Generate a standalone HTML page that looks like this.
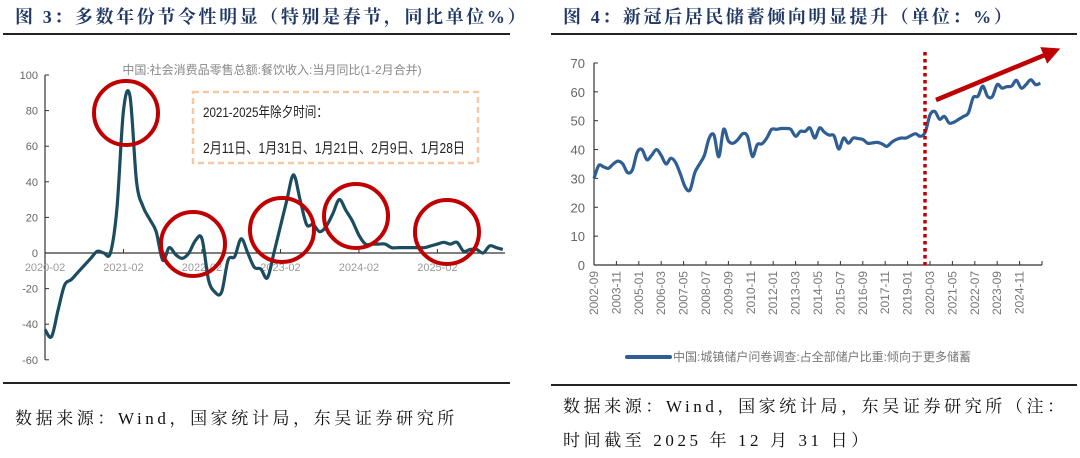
<!DOCTYPE html>
<html><head><meta charset="utf-8"><style>
body{margin:0;width:1080px;height:449px;background:#fff;overflow:hidden;position:relative;font-family:"Liberation Serif","Noto Serif CJK SC",serif}
.t{position:absolute;font-weight:bold;color:#1f3864;font-size:18px;white-space:nowrap;letter-spacing:2.6px}
.s{position:absolute;font-size:17px;color:#111;white-space:nowrap;letter-spacing:3.6px}
.rule{position:absolute;height:2px;background:#222}
</style></head><body>
<div class="t" style="left:15px;top:3px">图 3：多数年份节令性明显（特别是春节，同比单位%）</div>
<div class="t" style="left:563px;top:3px">图 4：新冠后居民储蓄倾向明显提升（单位：%）</div>
<div class="rule" style="left:3px;top:33px;width:507px"></div>
<div class="rule" style="left:551px;top:33px;width:526px"></div>
<div class="rule" style="left:3px;top:382px;width:507px"></div>
<div class="rule" style="left:551px;top:384px;width:526px"></div>
<div class="s" style="left:15px;top:404px">数据来源：Wind，国家统计局，东吴证券研究所</div>
<div class="s" style="left:563px;top:390px;line-height:34px">数据来源：Wind，国家统计局，东吴证券研究所（注：<br>时间截至 2025 年 12 月 31 日）</div>
<svg id="svg" width="1080" height="449" style="position:absolute;left:0;top:0" font-family="Liberation Sans, Noto Sans CJK SC, sans-serif">
<defs><marker id="ah" markerWidth="4" markerHeight="4" refX="2" refY="2" orient="auto"><path d="M0,0 L4,2 L0,4 z" fill="#c00000"/></marker></defs>
<g id="L"></g><g id="R"></g>
</svg>
<script>
const leftValues=[-43,-47,-32,-18,-15,-11,-7,-3,1,0,0,25,80,88,40,26,19,12,-4,3,-1,-3,0,7,8,-15,-22,-22,-4,-2,8,0,-8,-9,-14,0,15,30,44,30,16,16,12,15,22,30,24,18,10,5,5,5,5,3,3,3,3,3,3,4,5,6,5,6,1,2,2,0,4,3,2];
const leftTicksY=[100,80,60,40,20,0,-20,-40,-60];
const leftTicksX=["2020-02","2021-02","2022-02","2023-02","2024-02","2025-02"];
const rightValues=[30,34.5,34,33.5,35,36,35,32,33,39,40,36.5,38,40,38,35,37,35.5,31.5,27,26,32,35,38,44,45,37.5,47,43,42.2,43.5,45.5,44.5,37.6,41.7,42,44,47,47,47.3,47.3,47,44.6,46.3,46.3,47.5,44,47.5,46,45,44.8,40.2,44,42.2,44,43.8,43.5,42.2,42.3,42.5,42,41.1,42.5,43.5,44,44,44.8,45.5,44.6,46,52,53.2,50.5,51.5,49.2,49.5,50.5,51.5,52.7,58,58.5,62,58.4,58.4,62.5,61.3,61.8,62,64,61.3,62.5,64.2,62.5,63];
const rightTicksY=[0,10,20,30,40,50,60,70];
const rightTicksX=["2002-09","2003-11","2005-01","2006-03","2007-05","2008-07","2009-09","2010-11","2012-01","2013-03","2014-05","2015-07","2016-09","2017-11","2019-01","2020-03","2021-05","2022-07","2023-09","2024-11"];
const NS="http://www.w3.org/2000/svg";
function mk(p,tag,a){const e=document.createElementNS(NS,tag);for(const k in a)e.setAttribute(k,a[k]);p.appendChild(e);return e;}
function smooth(pts){let d="M"+pts[0][0]+","+pts[0][1];for(let i=0;i<pts.length-1;i++){const p0=pts[i-1]||pts[i],p1=pts[i],p2=pts[i+1],p3=pts[i+2]||p2;d+=" C"+(p1[0]+(p2[0]-p0[0])/6)+","+(p1[1]+(p2[1]-p0[1])/6)+" "+(p2[0]-(p3[0]-p1[0])/6)+","+(p2[1]-(p3[1]-p1[1])/6)+" "+p2[0]+","+p2[1];}return d;}
// Left chart
const L=document.getElementById('L');
const lx=i=>45+i*6.54, ly=v=>253-v*1.78;
let e=mk(L,'line',{x1:45,y1:ly(100),x2:45,y2:ly(-60),stroke:'#333','stroke-width':1.2});

e=mk(L,'line',{x1:45,y1:ly(0),x2:505,y2:ly(0),stroke:'#333','stroke-width':1.2});

leftTicksY.forEach(v=>{mk(L,'line',{x1:45,y1:ly(v),x2:49,y2:ly(v),stroke:'#333'});
 const t=mk(L,'text',{x:38,y:ly(v)+4,'text-anchor':'end','font-size':11,fill:'#666'});t.textContent=v;
 });
leftTicksX.forEach((s,i)=>{const x=lx(i*12);mk(L,'line',{x1:x,y1:ly(0),x2:x,y2:ly(0)-4,stroke:'#333'});
 const t=mk(L,'text',{x:x,y:271,'text-anchor':'middle','font-size':11,fill:'#999'});t.textContent=s;
 });
e=mk(L,'text',{x:272,y:74,'text-anchor':'middle','font-size':12,fill:'#888'});e.textContent='中国:社会消费品零售总额:餐饮收入:当月同比(1-2月合并)';

e=mk(L,'path',{d:smooth(leftValues.map((v,i)=>[lx(i),ly(v)])),fill:'none',stroke:'#1b4c60','stroke-width':3.2,'stroke-linejoin':'round'});

e=mk(L,'rect',{x:193,y:92,width:285,height:71,fill:'none',stroke:'#f6c9a6','stroke-width':2.5,'stroke-dasharray':'6 4'});

e=mk(L,'text',{x:203,y:117,'font-size':14,fill:'#222',textLength:125,lengthAdjust:'spacingAndGlyphs'});e.textContent='2021-2025年除夕时间：';

e=mk(L,'text',{x:203,y:153,'font-size':15,fill:'#222',textLength:262,lengthAdjust:'spacingAndGlyphs'});e.textContent='2月11日、1月31日、1月21日、2月9日、1月28日';

[[126,113],[193,244],[282,230],[356,216],[447,232]].forEach(c=>{e=mk(L,'ellipse',{cx:c[0],cy:c[1],rx:32,ry:32,fill:'none',stroke:'#c00000','stroke-width':4});
 });
// Right chart
const R=document.getElementById('R');
const rx=q=>594+q*4.8, ry=v=>265-v*2.886;
e=mk(R,'line',{x1:594,y1:ry(70),x2:594,y2:ry(0),stroke:'#333','stroke-width':1.2});

e=mk(R,'line',{x1:594,y1:ry(0),x2:1042,y2:ry(0),stroke:'#333','stroke-width':1.2});

rightTicksY.forEach(v=>{mk(R,'line',{x1:594,y1:ry(v),x2:598,y2:ry(v),stroke:'#333'});
 const t=mk(R,'text',{x:585,y:ry(v)+5,'text-anchor':'end','font-size':13,fill:'#666'});t.textContent=v;
 });
rightTicksX.forEach((s,i)=>{const x=594+i*14*1.6;mk(R,'line',{x1:x,y1:ry(0),x2:x,y2:ry(0)-4,stroke:'#333'});
 const t=mk(R,'text',{x:x+4,y:271,'text-anchor':'end','font-size':12,fill:'#777',transform:'rotate(-90 '+(x+4)+' 271)'});t.textContent=s;
 });
mk(R,'line',{x1:1042,y1:ry(0),x2:1042,y2:ry(0)-4,stroke:'#333'});
e=mk(R,'path',{d:smooth(rightValues.map((v,i)=>[rx(i),ry(v)])),fill:'none',stroke:'#2f5e94','stroke-width':3.2,'stroke-linejoin':'round'});

e=mk(R,'line',{x1:925,y1:52,x2:925,y2:266,stroke:'#c00000','stroke-width':3.5,'stroke-dasharray':'3.5 3.5'});

e=mk(R,'line',{x1:936,y1:100,x2:1052,y2:52,stroke:'#c00000','stroke-width':4.5,'marker-end':'url(#ah)'});

e=mk(R,'line',{x1:627,y1:357,x2:670,y2:357,stroke:'#2f5e94','stroke-width':4,'stroke-linecap':'round'});

e=mk(R,'text',{x:673,y:361,'font-size':12,fill:'#777'});e.textContent='中国:城镇储户问卷调查:占全部储户比重:倾向于更多储蓄';

</script>
</body></html>
